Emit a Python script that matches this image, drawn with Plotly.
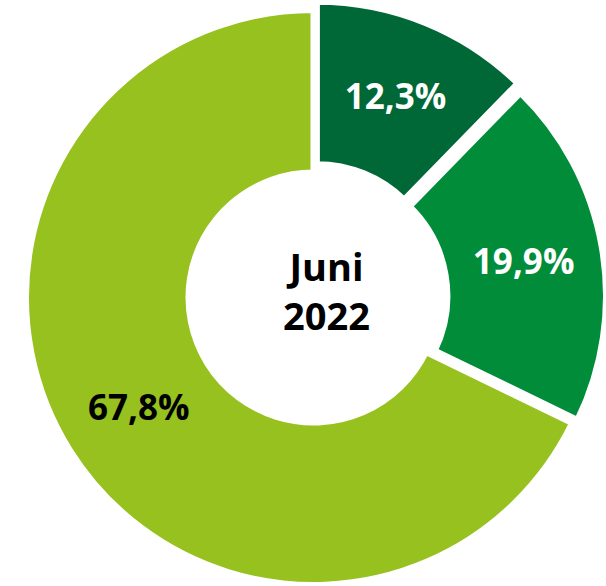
import math
import plotly.graph_objects as go

# ---- data ----
labels = ["Anteil 1", "Anteil 2", "Anteil 3"]
values = [12.3, 19.9, 67.8]
center_label = "Juni<br>2022"

# ---- style ----
colors = ["#006837", "#008C39", "#97C11F"]
text_colors = ["white", "white", "black"]
pull_px = [9, 9, 0]          # explosion of each slice, pixels
W, H = 606, 586
CX, CY = 313.5, 297.5         # pie centre, pixels from top-left
R = 287.5                     # outer radius incl. border
BORDER = 6
R_IN = 125.0                  # inner radius incl. border

total = sum(values)
fig = go.Figure()
cum = 0.0
for i, v in enumerate(values):
    mid = math.radians((cum + v / 2) / total * 360)
    cum += v
    cx = CX + pull_px[i] * math.sin(mid)
    cy = CY - pull_px[i] * math.cos(mid)
    half = min(R, cx, W - cx, cy, H - cy)
    mcol = ["rgba(0,0,0,0)"] * len(values)
    mcol[i] = colors[i]
    lw = [0] * len(values)
    lw[i] = BORDER
    tt = [""] * len(values)
    tt[i] = "%{value:.1f}%"
    fig.add_trace(go.Pie(
        labels=labels, values=values, sort=False, direction="clockwise", rotation=0,
        hole=R_IN / half,
        marker=dict(colors=mcol, line=dict(color="white", width=lw)),
        texttemplate=tt, textposition="inside", insidetextorientation="horizontal",
        textfont=dict(family="Open Sans", size=35, color=text_colors, weight="bold"),
        domain=dict(x=[(cx - half) / W, (cx + half) / W],
                    y=[1 - (cy + half) / H, 1 - (cy - half) / H]),
        hoverinfo="label+percent", showlegend=False,
    ))

fig.add_annotation(text=center_label, x=326 / W, y=1 - 291 / H, xref="paper", yref="paper",
                   showarrow=False,
                   font=dict(family="Open Sans", size=38, color="black", weight="bold"),
                   xanchor="center", yanchor="middle")

fig.update_layout(width=W, height=H, margin=dict(l=0, r=0, t=0, b=0),
                  paper_bgcolor="white", plot_bgcolor="white", separators=",.",
                  font=dict(family="Open Sans"))
fig.write_html("out.html", config={"displayModeBar": False},
               post_script="document.body.style.margin='0px';")
